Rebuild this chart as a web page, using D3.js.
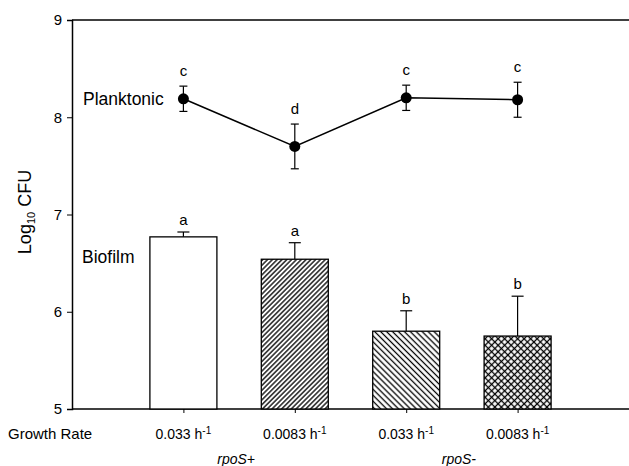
<!DOCTYPE html>
<html>
<head>
<meta charset="utf-8">
<script src="https://cdn.jsdelivr.net/npm/d3@7"></script>
<style>
  body { margin: 0; background: #fff; }
  text { font-family: "Liberation Sans", Arial, sans-serif; fill: #000; }
</style>
</head>
<body>
<div id="chart"></div>
<script>
// Planktonic vs biofilm CFU by growth rate

// ==========================================================
// Data
var groups = ["g1", "g2", "g3", "g4"];
var rateLabels = ["0.033", "0.0083", "0.033", "0.0083"];
var strainLabels = ["rpoS+", "rpoS-"];

var planktonic = [8.19, 7.70, 8.20, 8.18];
var planktonicErr = [0.13, 0.23, 0.13, 0.18];
var planktonicLetters = ["c", "d", "c", "c"];

var biofilm = [6.77, 6.54, 5.80, 5.75];
var biofilmErr = [0.05, 0.17, 0.21, 0.41];
var biofilmLetters = ["a", "a", "b", "b"];

var yTicks = [5, 6, 7, 8, 9];

// ==========================================================
// Set margins
var svgWidth = 629;
var svgHeight = 466;

var margin = { top: 20, right: 0, bottom: 57, left: 72 };

var width = svgWidth - margin.left - margin.right;
var height = svgHeight - margin.top - margin.bottom;

var svg = d3.select("#chart")
  .append("svg")
  .attr("width", svgWidth)
  .attr("height", svgHeight);

// hatch patterns
var defs = svg.append("defs");

function hatch(id, size, angle, cross) {
  var p = defs.append("pattern")
    .attr("id", id)
    .attr("patternUnits", "userSpaceOnUse")
    .attr("width", size)
    .attr("height", size)
    .attr("patternTransform", "rotate(" + angle + ")");
  p.append("rect").attr("width", size).attr("height", size).attr("fill", "#fff");
  p.append("line")
    .attr("x1", 0).attr("y1", size / 2).attr("x2", size).attr("y2", size / 2)
    .attr("stroke", "#000").attr("stroke-width", 1.3);
  if (cross) {
    p.append("line")
      .attr("x1", size / 2).attr("y1", 0).attr("x2", size / 2).attr("y2", size)
      .attr("stroke", "#000").attr("stroke-width", 1.3);
  }
}
hatch("hatchUp", 3.4, -45, false);
hatch("hatchDown", 4.2, 45, false);
hatch("hatchCross", 4.6, 45, true);

var fills = ["#fff", "url(#hatchUp)", "url(#hatchDown)", "url(#hatchCross)"];

var chartGroup = svg.append("g")
  .attr("transform", `translate(${margin.left}, ${margin.top})`);

// ==========================================================
// Scales
var xScale = d3.scalePoint()
  .domain(groups)
  .range([0, width])
  .padding(1);

var yScale = d3.scaleLinear()
  .domain([5, 9])
  .range([height, 0]);

var barWidth = 67;

// top frame line
chartGroup.append("line")
  .attr("x1", 0).attr("x2", width)
  .attr("y1", 0).attr("y2", 0)
  .attr("stroke", "#000").attr("stroke-width", 1.5);

// axes
var leftAxis = d3.axisLeft(yScale)
  .tickValues(yTicks)
  .tickSize(5)
  .tickPadding(5)
  .tickFormat(d3.format("d"));

var yAxis = chartGroup.append("g").call(leftAxis);
yAxis.select(".domain").attr("stroke-width", 1.5);
yAxis.selectAll("text").style("font-size", "15px");

var bottomAxis = d3.axisBottom(xScale)
  .tickSize(4)
  .tickFormat("");

var xAxis = chartGroup.append("g")
  .attr("transform", `translate(0, ${height})`)
  .call(bottomAxis);
xAxis.select(".domain").attr("d", `M0,0H${width}`).attr("stroke-width", 1.5);

// ==========================================================
// Biofilm bars
chartGroup.selectAll(".bar")
  .data(biofilm)
  .enter()
  .append("rect")
  .attr("class", "bar")
  .attr("x", (d, i) => xScale(groups[i]) - barWidth / 2)
  .attr("y", d => yScale(d))
  .attr("width", barWidth)
  .attr("height", d => height - yScale(d))
  .attr("fill", (d, i) => fills[i])
  .attr("stroke", "#000")
  .attr("stroke-width", 1.3);

// bar error bars (upper only)
var barErr = chartGroup.selectAll(".barErr")
  .data(biofilm)
  .enter()
  .append("g");
barErr.append("line")
  .attr("x1", (d, i) => xScale(groups[i]))
  .attr("x2", (d, i) => xScale(groups[i]))
  .attr("y1", d => yScale(d))
  .attr("y2", (d, i) => yScale(d + biofilmErr[i]))
  .attr("stroke", "#000").attr("stroke-width", 1.2);
barErr.append("line")
  .attr("x1", (d, i) => xScale(groups[i]) - 6)
  .attr("x2", (d, i) => xScale(groups[i]) + 6)
  .attr("y1", (d, i) => yScale(d + biofilmErr[i]))
  .attr("y2", (d, i) => yScale(d + biofilmErr[i]))
  .attr("stroke", "#000").attr("stroke-width", 1.2);
barErr.append("text")
  .attr("x", (d, i) => xScale(groups[i]))
  .attr("y", (d, i) => yScale(d + biofilmErr[i]) - 7)
  .attr("text-anchor", "middle")
  .style("font-size", "15px")
  .text((d, i) => biofilmLetters[i]);

// ==========================================================
// Planktonic line + points
var line = d3.line()
  .x((d, i) => xScale(groups[i]))
  .y(d => yScale(d));

chartGroup.append("path")
  .datum(planktonic)
  .attr("d", line)
  .attr("fill", "none")
  .attr("stroke", "#000")
  .attr("stroke-width", 1.5);

var pts = chartGroup.selectAll(".pt")
  .data(planktonic)
  .enter()
  .append("g");
pts.append("line")
  .attr("x1", (d, i) => xScale(groups[i]))
  .attr("x2", (d, i) => xScale(groups[i]))
  .attr("y1", (d, i) => yScale(d - planktonicErr[i]))
  .attr("y2", (d, i) => yScale(d + planktonicErr[i]))
  .attr("stroke", "#000").attr("stroke-width", 1.2);
pts.selectAll(".cap")
  .data((d, i) => [d - planktonicErr[i], d + planktonicErr[i]].map(v => ({ v: v, i: i })))
  .enter()
  .append("line")
  .attr("x1", c => xScale(groups[c.i]) - 4)
  .attr("x2", c => xScale(groups[c.i]) + 4)
  .attr("y1", c => yScale(c.v))
  .attr("y2", c => yScale(c.v))
  .attr("stroke", "#000").attr("stroke-width", 1.2);
pts.append("circle")
  .attr("cx", (d, i) => xScale(groups[i]))
  .attr("cy", d => yScale(d))
  .attr("r", 5.5)
  .attr("fill", "#000");
pts.append("text")
  .attr("x", (d, i) => xScale(groups[i]))
  .attr("y", (d, i) => yScale(d + planktonicErr[i]) - 10)
  .attr("text-anchor", "middle")
  .style("font-size", "15px")
  .text((d, i) => planktonicLetters[i]);

// series labels
chartGroup.append("text")
  .attr("x", 11).attr("y", yScale(planktonic[0]) + 6)
  .style("font-size", "17.5px")
  .text("Planktonic");
chartGroup.append("text")
  .attr("x", 10).attr("y", yScale(6.56) + 6)
  .style("font-size", "17.5px")
  .text("Biofilm");

// y axis label
var yLabel = svg.append("text")
  .attr("transform", "translate(31, 212) rotate(-90)")
  .attr("text-anchor", "middle")
  .style("font-size", "18px");
yLabel.append("tspan").text("Log");
yLabel.append("tspan").attr("dy", 4).style("font-size", "11px").text("10");
yLabel.append("tspan").attr("dy", -4).text(" CFU");

// x labels
svg.append("text")
  .attr("x", 8).attr("y", 439)
  .style("font-size", "15px")
  .text("Growth Rate");

var rate = svg.selectAll(".rate")
  .data(rateLabels)
  .enter()
  .append("text")
  .attr("x", (d, i) => margin.left + xScale(groups[i]))
  .attr("y", 439)
  .attr("text-anchor", "middle")
  .style("font-size", "14px");
rate.append("tspan").text(d => d + " h");
rate.append("tspan").attr("dy", -5).style("font-size", "10px").text("-1");

svg.selectAll(".strain")
  .data(strainLabels)
  .enter()
  .append("text")
  .attr("x", (d, i) => margin.left + (xScale(groups[i * 2]) + xScale(groups[i * 2 + 1])) / 2 - 3)
  .attr("y", 464)
  .attr("text-anchor", "middle")
  .style("font-size", "14px")
  .style("font-style", "italic")
  .text(d => d);
</script>
</body>
</html>
